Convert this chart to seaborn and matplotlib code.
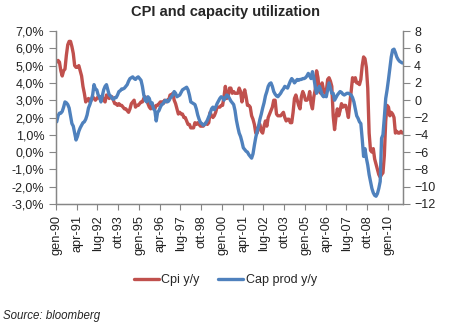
import numpy as np
import pandas as pd
import matplotlib
matplotlib.use("Agg")
import matplotlib.pyplot as plt
import seaborn as sns
from matplotlib.ticker import FuncFormatter, FixedLocator

# ---------------- data (monthly, Jan 1990 - Nov 2010) ----------------
cpi_yy = [
    5.2, 5.3, 5.2, 4.7, 4.4, 4.7, 4.8, 5.6, 6.2, 6.4, 6.4, 6.1,      # 1990
    5.7, 5.0, 4.9, 4.9, 5.0, 4.7, 4.4, 3.8, 3.4, 2.9, 3.0, 3.1,      # 1991
    2.9, 3.0, 3.2, 3.1, 3.0, 3.1, 3.2, 3.1, 3.0, 3.2, 3.0, 2.9,      # 1992
    3.3, 3.2, 3.1, 3.2, 3.2, 3.0, 2.8, 2.8, 2.7, 2.8, 2.7, 2.7,      # 1993
    2.6, 2.5, 2.5, 2.4, 2.3, 2.5, 2.8, 2.9, 3.0, 2.6, 2.7, 2.7,      # 1994
    2.8, 2.9, 2.9, 3.1, 3.2, 3.0, 2.8, 2.6, 2.5, 2.8, 2.6, 2.5,      # 1995
    2.7, 2.7, 2.8, 2.9, 2.9, 2.8, 3.0, 2.9, 3.0, 3.0, 3.3, 3.3,      # 1996
    3.4, 3.0, 2.8, 2.5, 2.2, 2.3, 2.2, 2.2, 2.0, 2.0, 1.8, 1.6,      # 1997
    1.6, 1.4, 1.4, 1.4, 1.7, 1.6, 1.7, 1.6, 1.5, 1.5, 1.5, 1.6,      # 1998
    1.7, 1.6, 1.7, 2.3, 2.1, 2.0, 2.1, 2.3, 2.6, 2.6, 2.6, 2.7,      # 1999
    2.7, 3.2, 3.8, 3.1, 3.2, 3.7, 3.7, 3.4, 3.5, 3.4, 3.4, 3.4,      # 2000
    3.7, 3.5, 2.9, 3.3, 3.6, 3.2, 2.7, 2.7, 2.6, 2.1, 1.9, 1.6,      # 2001
    1.1, 1.1, 1.5, 1.6, 1.2, 1.1, 1.5, 1.8, 1.5, 2.0, 2.2, 2.4,      # 2002
    2.6, 3.0, 3.0, 2.2, 2.1, 2.1, 2.1, 2.2, 2.3, 2.0, 1.8, 1.9,      # 2003
    1.9, 1.7, 1.7, 2.3, 3.1, 3.3, 3.0, 2.7, 2.5, 3.2, 3.5, 3.3,      # 2004
    3.0, 3.0, 3.1, 3.5, 2.8, 2.5, 3.2, 3.6, 4.7, 4.3, 3.5, 3.4,      # 2005
    4.0, 3.6, 3.4, 3.5, 4.2, 4.3, 4.1, 3.8, 2.1, 1.3, 2.0, 2.5,      # 2006
    2.1, 2.4, 2.8, 2.6, 2.7, 2.7, 2.4, 2.0, 2.8, 3.5, 4.3, 4.1,      # 2007
    4.3, 4.0, 4.0, 3.9, 4.2, 5.0, 5.5, 5.4, 4.9, 3.7, 1.1, 0.1,      # 2008
    0.0, 0.2, -0.4, -0.7, -1.0, -1.3, -1.45, -1.3, -1.2, -0.2, 1.8, 2.7,  # 2009
    2.6, 2.1, 2.3, 2.2, 2.0, 1.1, 1.2, 1.1, 1.1, 1.2, 1.1,           # 2010
]
cap_prod_yy = [
    -2.5, -1.8, -1.5, -1.5, -1.3, -0.8, -0.2, -0.3, -0.5, -0.9, -1.8, -2.7,   # 1990
    -3.0, -3.8, -4.6, -4.2, -3.6, -3.2, -2.9, -2.6, -2.5, -2.2, -1.7, -0.9,   # 1991
    -0.5, 0.0, 0.6, 1.8, 1.3, 1.2, 0.6, 0.4, -0.2, 0.5, 1.2, 1.6,            # 1992
    1.8, 1.2, 0.6, 0.5, 0.2, 0.1, 0.3, 0.3, 0.6, 1.0, 1.1, 1.3,              # 1993
    1.3, 1.4, 1.6, 1.8, 2.2, 2.5, 2.6, 2.7, 2.5, 2.4, 2.6, 2.7,              # 1994
    2.5, 2.3, 1.6, 0.6, 0.0, -0.2, 0.4, 0.2, -0.4, -0.3, -1.0, -1.2,         # 1995
    -2.4, -1.4, -1.2, -0.8, -0.5, -0.4, -0.1, 0.0, -0.2, -0.1, 0.2, 0.4,     # 1996
    0.6, 1.0, 0.8, 0.4, 0.5, 0.6, 0.9, 1.2, 1.3, 1.4, 1.5, 1.2,              # 1997
    0.6, -0.2, -0.3, -0.4, -0.5, -1.0, -1.7, -2.2, -2.6, -2.7, -2.9, -2.8,   # 1998
    -2.6, -2.3, -1.9, -1.5, -1.0, -0.8, -1.1, -0.8, -0.4, -0.1, 0.2, 0.4,    # 1999
    0.3, 0.0, 0.3, 0.6, 0.5, 0.2, -0.1, -0.3, -0.5, -1.2, -2.3, -3.1,        # 2000
    -3.8, -4.2, -4.8, -5.5, -5.7, -5.9, -6.0, -6.3, -6.5, -6.7, -6.2, -5.2,  # 2001
    -4.3, -3.6, -3.0, -2.2, -1.6, -0.9, -0.3, 0.5, 1.0, 1.6, 1.9, 2.0,       # 2002
    1.6, 1.0, 0.7, 0.5, 0.4, 0.6, 0.8, 1.1, 1.3, 1.6, 1.5, 1.4,              # 2003
    1.8, 2.2, 2.5, 2.3, 2.0, 2.2, 2.4, 2.3, 2.4, 2.4, 2.5, 2.5,              # 2004
    2.6, 2.8, 3.1, 2.8, 2.5, 3.3, 2.6, 1.6, 0.8, 1.2, 1.6, 1.2,              # 2005
    0.6, 0.4, 0.5, 0.4, 1.2, 2.0, 1.4, 0.8, 0.8, 0.0, 0.3, 0.6,              # 2006
    0.8, 1.0, 0.9, 0.7, 0.6, 0.7, 0.8, 0.8, 0.7, 0.6, 0.3, -0.2,             # 2007
    -1.0, -1.8, -2.1, -2.5, -2.7, -4.5, -6.5, -5.6, -6.7, -7.5, -8.6, -9.4,  # 2008
    -10.2, -10.7, -11.0, -11.1, -10.8, -10.2, -9.4, -4.4, -4.0, -2.0, 0.2, 1.2,  # 2009
    2.4, 3.7, 5.0, 5.8, 5.9, 5.5, 5.0, 4.7, 4.5, 4.4, 4.3,                   # 2010
]
tick_labels = ["gen-90", "apr-91", "lug-92", "ott-93", "gen-95", "apr-96",
               "lug-97", "ott-98", "gen-00", "apr-01", "lug-02", "ott-03",
               "gen-05", "apr-06", "lug-07", "ott-08", "gen-10"]
series_names = ["Cpi y/y", "Cap prod y/y"]
title = "CPI and capacity utilization"
source = "Source: bloomberg"

# ---------------- style ----------------
sns.set_theme(style="white")
plt.rcParams["font.family"] = ["Liberation Sans", "DejaVu Sans"]
red = "#C0504D"
blue = "#4F81BD"
grey = "#868686"

n = len(cpi_yy)
df = pd.DataFrame({"month": np.arange(n), "cpi": cpi_yy, "cap": cap_prod_yy})

fig = plt.figure(figsize=(4.6, 3.32), dpi=100)
ax = fig.add_axes([56/460, 1-204/332, (403-56)/460, (204-31)/332])
ax2 = ax.twinx()

sns.lineplot(data=df, x="month", y="cpi", ax=ax, color=red, lw=2.4,
             label=series_names[0], legend=False)
sns.lineplot(data=df, x="month", y="cap", ax=ax2, color=blue, lw=2.4,
             label=series_names[1], legend=False)

ax.set_xlim(-0.5, n - 0.5)
ax.set_ylim(-3, 7)
ax2.set_ylim(-12, 8)
ax.set_yticks(np.arange(-3, 8, 1))
ax2.set_yticks(np.arange(-12, 9, 2))
ax.yaxis.set_major_formatter(FuncFormatter(lambda v, p: f"{v:.1f}%".replace(".", ",")))

# x ticks: marks at group boundaries, labels at category positions
label_pos = np.arange(len(tick_labels)) * 15
ax.xaxis.set_major_locator(FixedLocator(list(np.arange(-0.5, n, 15))))
ax.set_xticklabels([])
ax.xaxis.set_minor_locator(FixedLocator(list(label_pos)))
ax.set_xticklabels(tick_labels, minor=True, rotation=90, fontsize=9.2,
                   va="top", ha="center", color="#222222")
ax.tick_params(axis="x", which="major", length=4, width=0.8, color=grey, direction="out", bottom=True)
ax.tick_params(axis="x", which="minor", length=0, pad=8)
ax.tick_params(axis="y", length=5, width=0.8, color=grey, labelsize=9, labelcolor="#222222", left=True, direction="out", pad=3.5)
ax2.tick_params(axis="y", length=5, width=0.8, color=grey, labelsize=9, labelcolor="#222222", right=True, direction="out", pad=3)
ax.set_xlabel("")
ax.set_ylabel("")
ax2.set_ylabel("")
for a in (ax, ax2):
    a.grid(False)
    a.spines["top"].set_visible(False)
    for s in ("left", "right", "bottom"):
        a.spines[s].set_color(grey)
        a.spines[s].set_linewidth(0.9)

fig.text(0.49, 1 - 12/332, title, ha="center", va="center", fontsize=10.5, fontweight="bold")

h1, l1 = ax.get_legend_handles_labels()
h2, l2 = ax2.get_legend_handles_labels()
fig.legend(h1 + h2, l1 + l2, loc="center", bbox_to_anchor=(0.49, 1 - 280/332),
           ncol=2, frameon=False, fontsize=9, handlelength=2.0, handletextpad=0.2,
           columnspacing=1.5)

fig.text(3/460, 1 - 316/332, source, ha="left", va="center", fontsize=8.3, style="italic")

fig.savefig("out.png", dpi=100, facecolor="white")
